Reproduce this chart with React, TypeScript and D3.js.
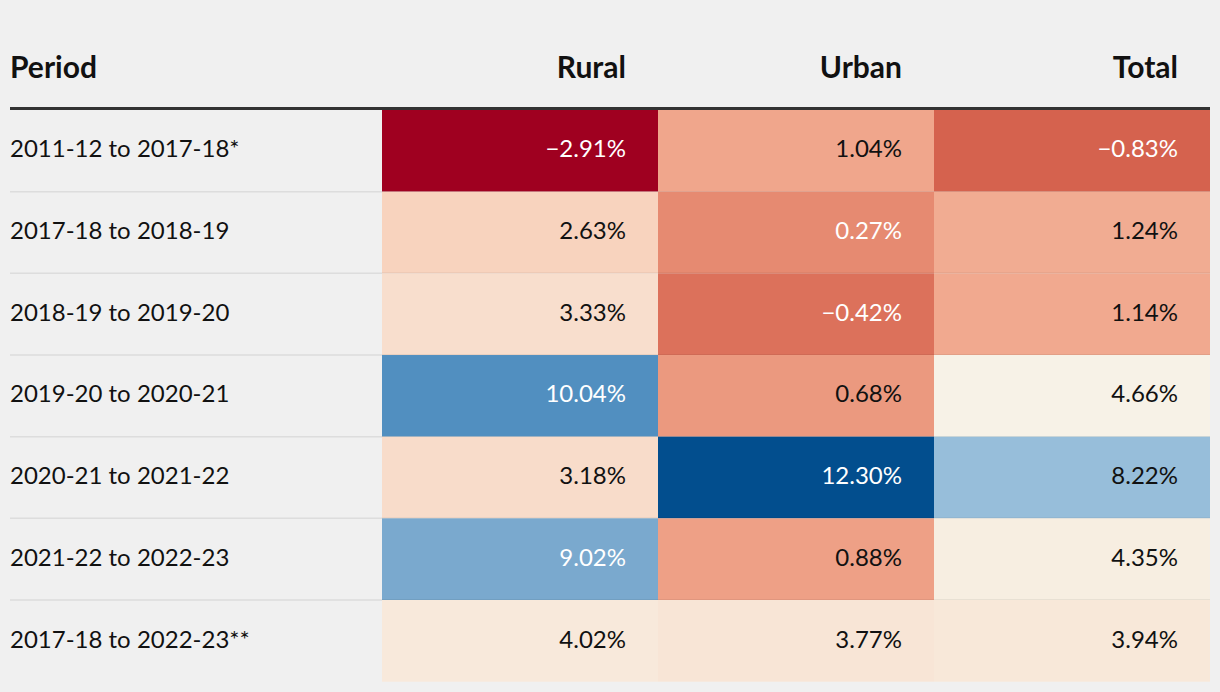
import React from "react";
import * as d3 from "d3";

const periods = [
  "2011-12 to 2017-18*",
  "2017-18 to 2018-19",
  "2018-19 to 2019-20",
  "2019-20 to 2020-21",
  "2020-21 to 2021-22",
  "2021-22 to 2022-23",
  "2017-18 to 2022-23**",
];
const columns = ["Rural", "Urban", "Total"];
const rural = [-2.91, 2.63, 3.33, 10.04, 3.18, 9.02, 4.02];
const urban = [1.04, 0.27, -0.42, 0.68, 12.3, 0.88, 3.77];
const total = [-0.83, 1.24, 1.14, 4.66, 8.22, 4.35, 3.94];
const series = [rural, urban, total];

// colour ramp stops (fraction of the value extent -> colour)
const rampStops = [0, 0.14, 0.26, 0.37, 0.5, 0.73, 0.85, 1];
const rampColors = ["#9f0020", "#d6644f", "#f0a68c", "#f8d5c1", "#f7f3e8", "#98bfda", "#5290c0", "#024e8e"];

const W = 1220;
const H = 692;
const FONT = "Lato, 'Noto Sans', sans-serif";

export default function App() {
  const left = 10;
  const right = 1210;
  const periodEnd = 382;
  const top = 110;
  const bottom = 681.7;

  const x = d3.scaleBand<string>().domain(columns).range([periodEnd, right]);
  const y = d3.scaleBand<string>().domain(periods).range([top, bottom]);
  const all = series.flat();
  const [mn, mx] = d3.extent(all) as [number, number];
  const color = d3
    .scaleLinear<string>()
    .domain(rampStops.map((t) => mn + t * (mx - mn)))
    .range(rampColors)
    .interpolate(d3.interpolateLab);
  const fmt = (v: number) => d3.format(".2f")(v).replace("-", "\u2212") + "%";

  return (
    <svg
      width={W}
      height={H}
      style={{ position: "absolute", left: 0, top: 0, display: "block" }}
      fontFamily={FONT}
    >
      <rect x={0} y={0} width={W} height={H} fill="#f0f0f0" />
      <text x={left} y={78} fontSize={30} fontWeight={700} fill="#111">
        Period
      </text>
      {columns.map((c) => (
        <text
          key={c}
          x={(x(c) as number) + x.bandwidth() - 32}
          y={78}
          fontSize={30}
          fontWeight={700}
          textAnchor="end"
          fill="#111"
        >
          {c}
        </text>
      ))}
      {periods.map((p, i) => (
        <g key={p}>
          {columns.map((c, j) => {
            const v = series[j][i];
            const fill = color(v);
            const light = d3.lab(fill).l < 70.5;
            return (
              <g key={c}>
                <rect
                  x={x(c) as number}
                  y={y(p) as number}
                  width={x.bandwidth()}
                  height={y.bandwidth()}
                  fill={fill}
                />
                <text
                  x={(x(c) as number) + x.bandwidth() - 32}
                  y={(y(p) as number) + y.bandwidth() / 2 - 2}
                  dy="0.36em"
                  fontSize={24}
                  textAnchor="end"
                  fill={light ? "#fff" : "#111"}
                >
                  {fmt(v)}
                </text>
              </g>
            );
          })}
          <text
            x={left}
            y={(y(p) as number) + y.bandwidth() / 2 - 2}
            dy="0.36em"
            fontSize={24}
            fill="#111"
          >
            {p}
          </text>
          {i < periods.length - 1 && (
            <line
              x1={left}
              x2={right}
              y1={(y(p) as number) + y.bandwidth()}
              y2={(y(p) as number) + y.bandwidth()}
              stroke="rgba(0,0,0,0.08)"
              strokeWidth={1.5}
            />
          )}
        </g>
      ))}
      <line x1={left} x2={right} y1={108.5} y2={108.5} stroke="#333" strokeWidth={3} />
    </svg>
  );
}
